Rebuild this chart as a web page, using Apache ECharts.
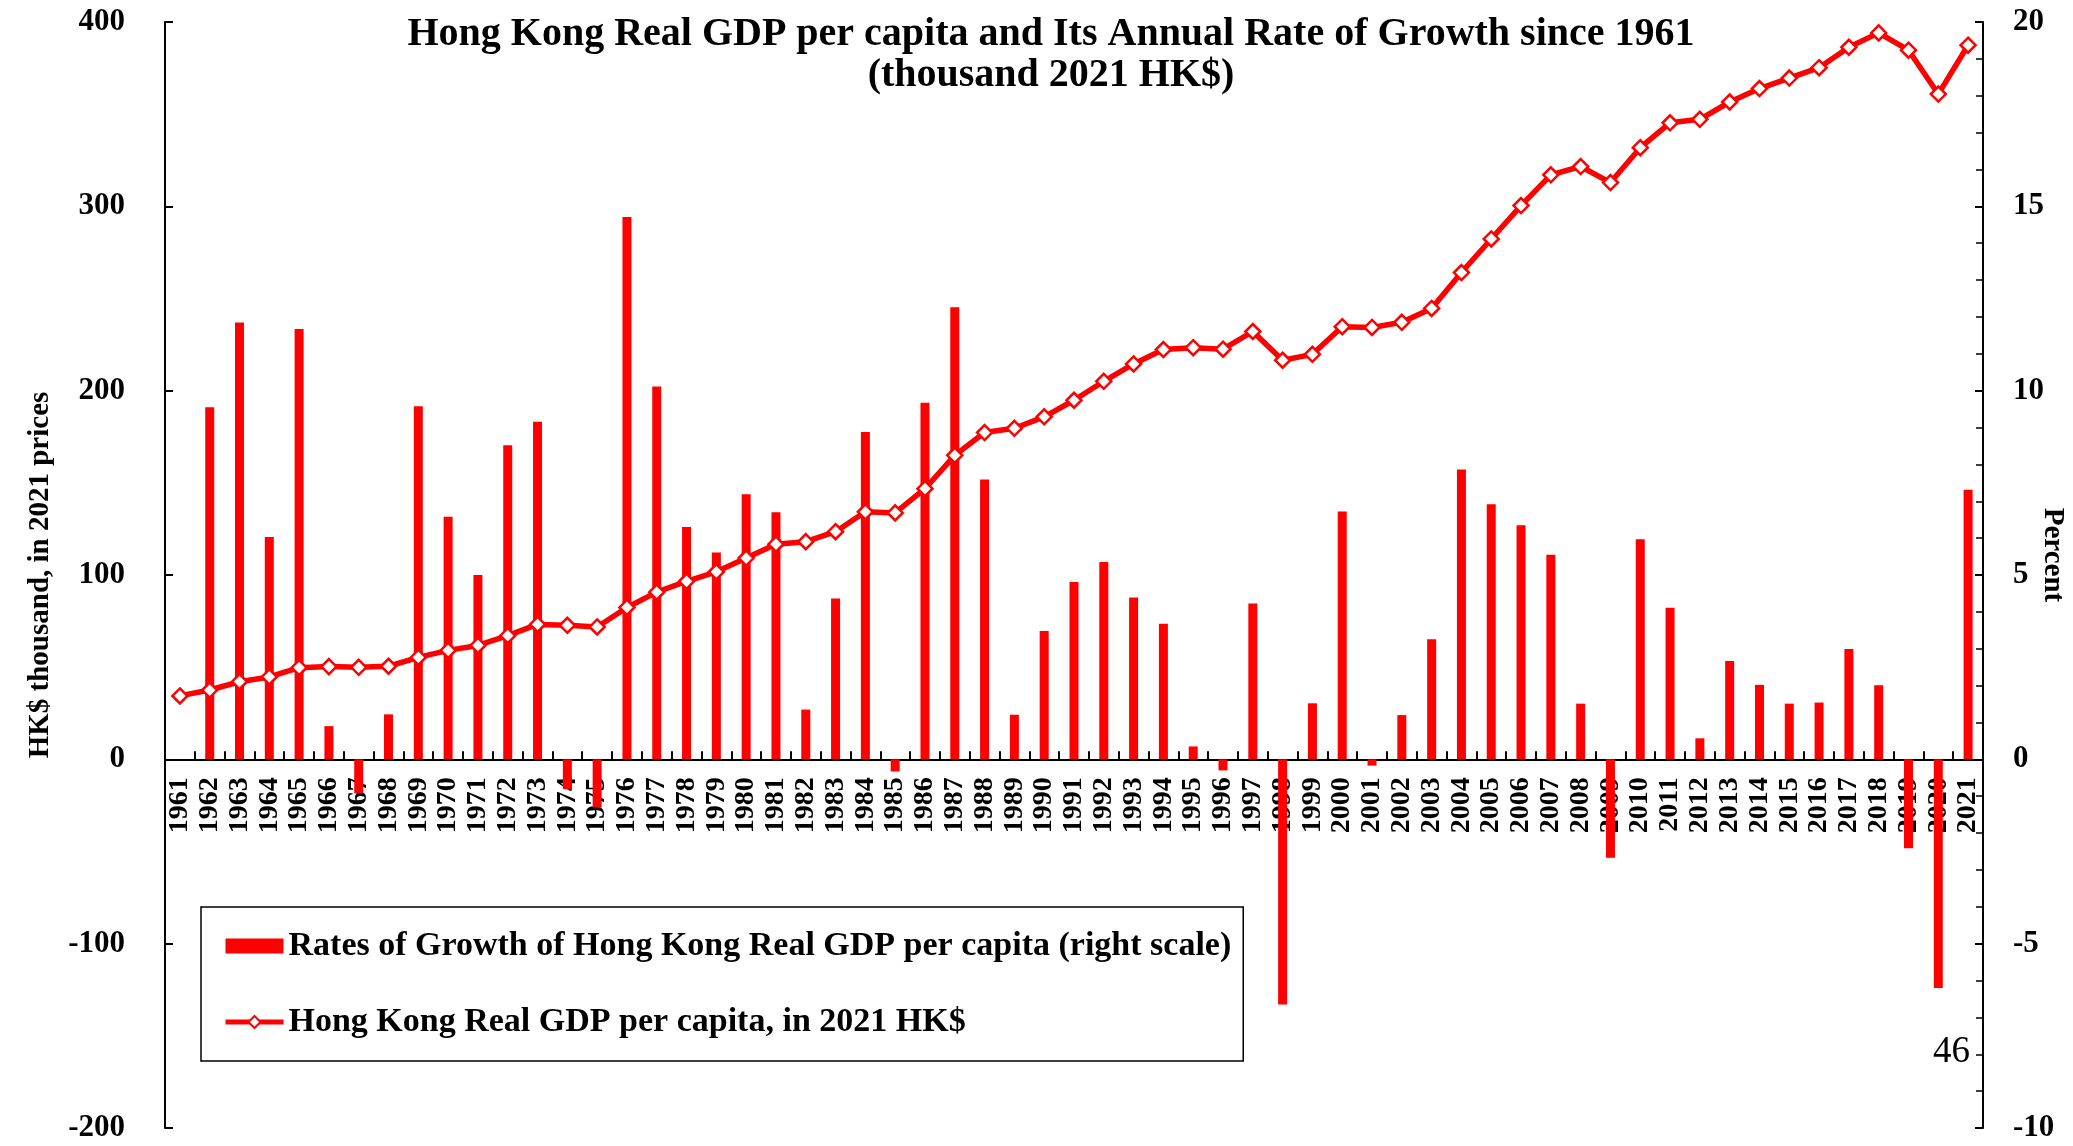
<!DOCTYPE html>
<html>
<head>
<meta charset="utf-8">
<script src="https://cdn.jsdelivr.net/npm/echarts@6/dist/echarts.min.js"></script>
<style>
  html, body { margin: 0; padding: 0; background: #ffffff; }
  #hk-gdp-chart-div { width: 2073px; height: 1146px; }
</style>
</head>
<body>
<div id="hk-gdp-chart-div"></div>
<script>
// years on the x axis
var hk_gdp_years = [];
for (var y = 1961; y <= 2021; y++) { hk_gdp_years.push(String(y)); }

// annual growth rate of real GDP per capita, percent (right scale)
const hk_gdp_growth = [
    '-', 9.55, 11.85, 6.03, 11.67, 0.90, -0.92, 1.22, 9.58, 6.58,
    5.00, 8.52, 9.16, -0.81, -1.31, 14.71, 10.11, 6.30, 5.61, 7.19,
    6.70, 1.35, 4.36, 8.88, -0.33, 9.67, 12.26, 7.59, 1.21, 3.48,
    4.81, 5.35, 4.39, 3.68, 0.35, -0.30, 4.23, -6.65, 1.52, 6.72,
    -0.17, 1.20, 3.26, 7.86, 6.92, 6.35, 5.55, 1.51, -2.67, 5.97,
    4.11, 0.57, 2.67, 2.02, 1.51, 1.54, 2.99, 2.01, -2.41, -6.20,
    7.31
];

// real GDP per capita, thousand 2021 HK$ (left scale)
const hk_gdp_percap = [
    34.4, 37.6, 42.1, 44.7, 49.7, 50.3, 49.9, 50.5, 55.3, 59.1,
    61.8, 67.1, 73.2, 72.7, 71.8, 82.4, 90.7, 96.6, 101.7, 109.2,
    116.7, 118.1, 123.5, 134.3, 133.7, 146.8, 164.9, 177.3, 179.6, 185.8,
    194.8, 205.1, 214.5, 222.3, 223.3, 222.5, 232.1, 216.5, 219.7, 234.7,
    234.3, 237.1, 244.6, 264.1, 282.3, 300.4, 317.1, 321.6, 312.9, 331.8,
    345.3, 347.2, 356.6, 363.9, 369.6, 375.2, 386.3, 394.1, 384.7, 360.9,
    387.4
];

// left axis range, the x axis sits on its zero
const hk_gdp_leftMin = -200;
const hk_gdp_leftMax = 400;

const hk_gdp_barName = 'Rates of Growth of Hong Kong Real GDP per capita (right scale)';
const hk_gdp_lineName = 'Hong Kong Real GDP per capita, in 2021 HK$';

var hk_gdp_chartDom = document.getElementById('hk-gdp-chart-div');
var hk_gdp_myChart = echarts.init(hk_gdp_chartDom, null, { renderer: 'canvas' });
var hk_gdp_option;

const hk_gdp_font = 'Liberation Serif';
const hk_gdp_red = '#ff0000';

// grid box in pixels
const hk_gdp_gridTop = 22;
const hk_gdp_gridBottom = 18;
const hk_gdp_gridH = 1146 - hk_gdp_gridTop - hk_gdp_gridBottom;
// move the category axis up from the grid bottom to the zero line
const hk_gdp_xOffset = -hk_gdp_gridH * (0 - hk_gdp_leftMin) / (hk_gdp_leftMax - hk_gdp_leftMin);

hk_gdp_option = {
    animation: false,
    backgroundColor: '#ffffff',
    title: {
        text: 'Hong Kong Real GDP per capita and Its Annual Rate of Growth since 1961\n(thousand 2021 HK$)',
        left: 1046,
        top: 9,
        textAlign: 'center',
        textStyle: {
            fontFamily: hk_gdp_font,
            fontWeight: 'bold',
            fontSize: 40,
            lineHeight: 41,
            color: '#000'
        }
    },
    legend: {
        orient: 'vertical',
        left: 201,
        top: 907,
        itemWidth: 58,
        itemHeight: 15,
        itemGap: 42,
        padding: [22, 12, 22, 22],
        borderColor: '#000',
        borderWidth: 1.5,
        selectedMode: false,
        textStyle: {
            fontFamily: hk_gdp_font,
            fontWeight: 'bold',
            fontSize: 34,
            color: '#000'
        },
        data: [
            { name: hk_gdp_barName, icon: 'rect' },
            { name: hk_gdp_lineName, lineStyle: { width: 5 } }
        ]
    },
    grid: {
        left: 165,
        right: 90,
        top: hk_gdp_gridTop,
        bottom: hk_gdp_gridBottom,
        containLabel: false,
        outerBoundsMode: 'none'
    },
    xAxis: [
        {
            type: 'category',
            data: hk_gdp_years,
            boundaryGap: true,
            offset: hk_gdp_xOffset,
            axisLine: { onZero: false, lineStyle: { color: '#000', width: 2 } },
            axisTick: { show: true, inside: true, length: 8, interval: 0, lineStyle: { color: '#000', width: 2 } },
            axisLabel: {
                interval: 0,
                rotate: 90,
                margin: 18,
                fontFamily: hk_gdp_font,
                fontWeight: 'bold',
                fontSize: 28,
                color: '#000'
            },
            splitLine: { show: false }
        }
    ],
    yAxis: [
        {
            type: 'value',
            position: 'left',
            min: hk_gdp_leftMin,
            max: hk_gdp_leftMax,
            interval: 100,
            name: 'HK$ thousand, in 2021 prices',
            nameLocation: 'middle',
            nameRotate: 90,
            nameGap: 110,
            nameMoveOverlap: false,
            nameTextStyle: {
                fontFamily: hk_gdp_font,
                fontWeight: 'bold',
                fontSize: 29,
                color: '#000'
            },
            axisLine: { show: true, onZero: false, lineStyle: { color: '#000', width: 2 } },
            axisTick: { show: true, inside: true, length: 8, lineStyle: { color: '#000', width: 2 } },
            axisLabel: {
                margin: 40,
                fontFamily: hk_gdp_font,
                fontWeight: 'bold',
                fontSize: 31,
                color: '#000'
            },
            splitLine: { show: false }
        },
        {
            type: 'value',
            position: 'right',
            min: -10,
            max: 20,
            interval: 5,
            name: 'Percent',
            nameLocation: 'middle',
            nameRotate: -90,
            nameGap: 55,
            nameMoveOverlap: false,
            nameTextStyle: {
                fontFamily: hk_gdp_font,
                fontWeight: 'bold',
                fontSize: 29,
                color: '#000',
                // shift the name a little up along the axis
                padding: [0, 40, 0, 0]
            },
            axisLine: { show: true, onZero: false, lineStyle: { color: '#000', width: 2 } },
            axisTick: { show: true, inside: true, length: 8, lineStyle: { color: '#000', width: 2 } },
            minorTick: { show: true, splitNumber: 5, length: 7, lineStyle: { color: '#000', width: 1.5 } },
            axisLabel: {
                margin: 30,
                fontFamily: hk_gdp_font,
                fontWeight: 'bold',
                fontSize: 31,
                color: '#000'
            },
            splitLine: { show: false },
            minorSplitLine: { show: false }
        }
    ],
    series: [
        {
            name: hk_gdp_barName,
            type: 'bar',
            yAxisIndex: 1,
            barWidth: 9,
            itemStyle: { color: hk_gdp_red },
            data: hk_gdp_growth
        },
        {
            name: hk_gdp_lineName,
            type: 'line',
            yAxisIndex: 0,
            symbol: 'diamond',
            symbolSize: 15,
            showAllSymbol: true,
            z: 5,
            lineStyle: { color: hk_gdp_red, width: 5.5 },
            itemStyle: { color: '#ffffff', borderColor: hk_gdp_red, borderWidth: 2.5 },
            data: hk_gdp_percap
        }
    ],
    graphic: [
        {
            type: 'text',
            left: 1933,
            top: 1034,
            style: {
                text: '46',
                font: '37px "Liberation Serif"',
                fill: '#000'
            }
        }
    ]
};

if (hk_gdp_option && typeof hk_gdp_option === 'object') {
    hk_gdp_myChart.setOption(hk_gdp_option);
}
</script>
</body>
</html>
